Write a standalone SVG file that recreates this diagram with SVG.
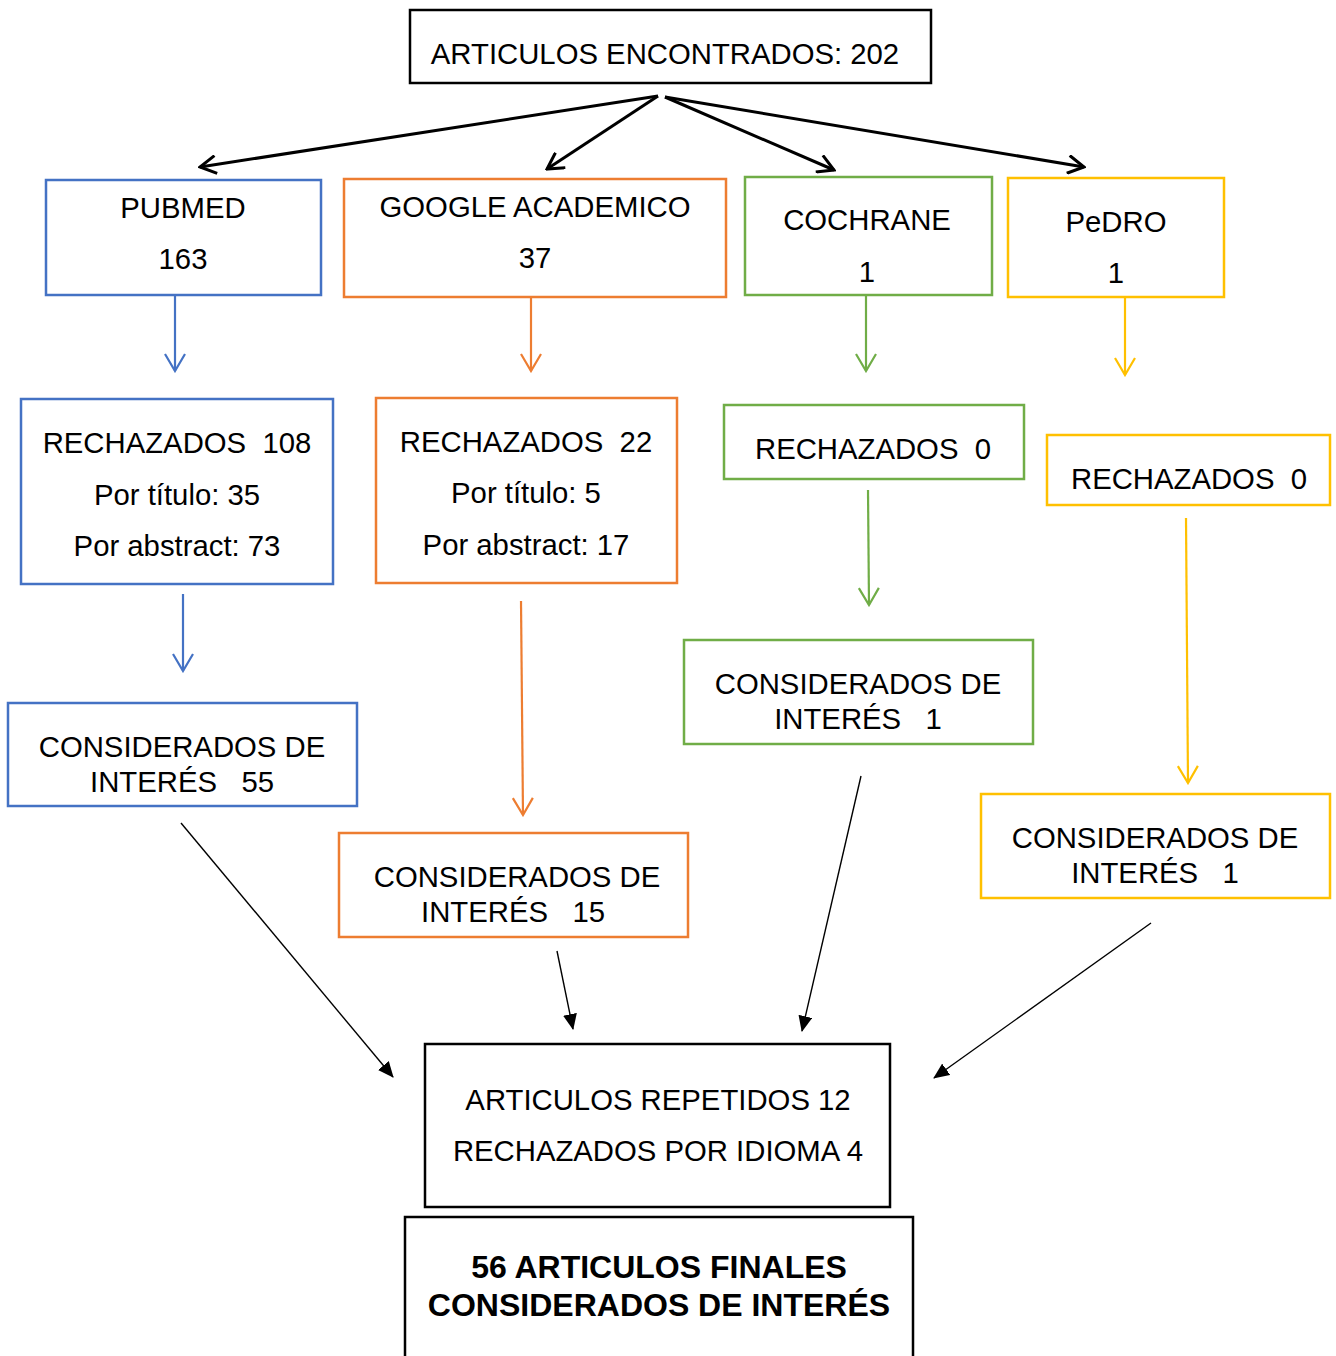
<svg xmlns="http://www.w3.org/2000/svg" width="1336" height="1356" viewBox="0 0 1336 1356">
<style>
text{font-family:"Liberation Sans",Arial,sans-serif;font-size:29.3px;fill:#000;text-anchor:middle}
.b{font-weight:bold;font-size:32px}
rect{fill:#fff;stroke-width:2.5}
.k{stroke:#000}.bl{stroke:#4472C4}.or{stroke:#ED7D31}.gr{stroke:#70AD47}.ye{stroke:#FFC000}
line{fill:none}
</style>
<defs>
<marker id="vk" markerUnits="userSpaceOnUse" viewBox="0 0 20 20" markerWidth="20" markerHeight="20" refX="18" refY="10" orient="auto"><path d="M2,1 L18,10 L2,19" fill="none" stroke="#000" stroke-width="3"/></marker>
<marker id="vbl" markerUnits="userSpaceOnUse" viewBox="0 0 20 24" markerWidth="20" markerHeight="24" refX="18" refY="12" orient="auto"><path d="M1,2 L18,12 L1,22" fill="none" stroke="#4472C4" stroke-width="2.2"/></marker>
<marker id="vor" markerUnits="userSpaceOnUse" viewBox="0 0 20 24" markerWidth="20" markerHeight="24" refX="18" refY="12" orient="auto"><path d="M1,2 L18,12 L1,22" fill="none" stroke="#ED7D31" stroke-width="2.2"/></marker>
<marker id="vgr" markerUnits="userSpaceOnUse" viewBox="0 0 20 24" markerWidth="20" markerHeight="24" refX="18" refY="12" orient="auto"><path d="M1,2 L18,12 L1,22" fill="none" stroke="#70AD47" stroke-width="2.2"/></marker>
<marker id="vye" markerUnits="userSpaceOnUse" viewBox="0 0 20 24" markerWidth="20" markerHeight="24" refX="18" refY="12" orient="auto"><path d="M1,2 L18,12 L1,22" fill="none" stroke="#FFC000" stroke-width="2.2"/></marker>
<marker id="tri" markerUnits="userSpaceOnUse" viewBox="0 0 16 14" markerWidth="16" markerHeight="14" refX="15" refY="7" orient="auto"><path d="M0,0 L16,7 L0,14 z" fill="#000"/></marker>
</defs>

<g id="connectors">
<line x1="658" y1="96" x2="200" y2="167" stroke="#000" stroke-width="3" marker-end="url(#vk)"/>
<line x1="658" y1="96" x2="547" y2="169" stroke="#000" stroke-width="3" marker-end="url(#vk)"/>
<line x1="665" y1="97" x2="834" y2="170" stroke="#000" stroke-width="3" marker-end="url(#vk)"/>
<line x1="665" y1="97" x2="1084" y2="167" stroke="#000" stroke-width="3" marker-end="url(#vk)"/>

<line x1="175" y1="295" x2="175" y2="371" class="bl" stroke-width="2.2" marker-end="url(#vbl)"/>
<line x1="531" y1="297" x2="531" y2="371" class="or" stroke-width="2.2" marker-end="url(#vor)"/>
<line x1="866" y1="296" x2="866" y2="371" class="gr" stroke-width="2.2" marker-end="url(#vgr)"/>
<line x1="1125" y1="297" x2="1125" y2="375" class="ye" stroke-width="2.2" marker-end="url(#vye)"/>

<line x1="183" y1="594" x2="183" y2="671" class="bl" stroke-width="2.2" marker-end="url(#vbl)"/>
<line x1="521" y1="601" x2="523" y2="815" class="or" stroke-width="2.2" marker-end="url(#vor)"/>
<line x1="868" y1="490" x2="869" y2="605" class="gr" stroke-width="2.2" marker-end="url(#vgr)"/>
<line x1="1186" y1="518" x2="1188" y2="783" class="ye" stroke-width="2.2" marker-end="url(#vye)"/>

<line x1="181" y1="823" x2="393" y2="1077" stroke="#000" stroke-width="1.4" marker-end="url(#tri)"/>
<line x1="557" y1="951" x2="573" y2="1029" stroke="#000" stroke-width="1.4" marker-end="url(#tri)"/>
<line x1="861" y1="776" x2="802" y2="1031" stroke="#000" stroke-width="1.4" marker-end="url(#tri)"/>
<line x1="1151" y1="923" x2="934" y2="1078" stroke="#000" stroke-width="1.4" marker-end="url(#tri)"/>
</g>

<g id="n_total"><rect x="410" y="10" width="521" height="73" class="k"/><text x="665" y="64">ARTICULOS ENCONTRADOS: 202</text></g>

<g id="n_pubmed"><rect x="46" y="180" width="275" height="115" class="bl"/><text x="183" y="218">PUBMED</text><text x="183" y="269">163</text></g>
<g id="n_google"><rect x="344" y="179" width="382" height="118" class="or"/><text x="535" y="217">GOOGLE ACADEMICO</text><text x="535" y="268">37</text></g>
<g id="n_cochrane"><rect x="745" y="177" width="247" height="118" class="gr"/><text x="867" y="230">COCHRANE</text><text x="867" y="282">1</text></g>
<g id="n_pedro"><rect x="1008" y="178" width="216" height="119" class="ye"/><text x="1116" y="232">PeDRO</text><text x="1116" y="283">1</text></g>

<g id="n_rech_pubmed"><rect x="21" y="399" width="312" height="185" class="bl"/><text x="177" y="453" xml:space="preserve">RECHAZADOS  108</text><text x="177" y="505">Por título: 35</text><text x="177" y="556">Por abstract: 73</text></g>
<g id="n_rech_google"><rect x="376" y="398" width="301" height="185" class="or"/><text x="526" y="452" xml:space="preserve">RECHAZADOS  22</text><text x="526" y="503">Por título: 5</text><text x="526" y="555">Por abstract: 17</text></g>
<g id="n_rech_cochrane"><rect x="724" y="405" width="300" height="74" class="gr"/><text x="873" y="459" xml:space="preserve">RECHAZADOS  0</text></g>
<g id="n_rech_pedro"><rect x="1047" y="435" width="283" height="70" class="ye"/><text x="1189" y="489" xml:space="preserve">RECHAZADOS  0</text></g>

<g id="n_int_pubmed"><rect x="8" y="703" width="349" height="103" class="bl"/><text x="182" y="757">CONSIDERADOS DE</text><text x="182" y="792" xml:space="preserve">INTERÉS   55</text></g>
<g id="n_int_google"><rect x="339" y="833" width="349" height="104" class="or"/><text x="517" y="887">CONSIDERADOS DE</text><text x="513" y="922" xml:space="preserve">INTERÉS   15</text></g>
<g id="n_int_cochrane"><rect x="684" y="640" width="349" height="104" class="gr"/><text x="858" y="694">CONSIDERADOS DE</text><text x="858" y="729" xml:space="preserve">INTERÉS   1</text></g>
<g id="n_int_pedro"><rect x="981" y="794" width="349" height="104" class="ye"/><text x="1155" y="848">CONSIDERADOS DE</text><text x="1155" y="883" xml:space="preserve">INTERÉS   1</text></g>

<g id="n_repetidos"><rect x="425" y="1044" width="465" height="163" class="k"/><text x="658" y="1110">ARTICULOS REPETIDOS 12</text><text x="658" y="1161">RECHAZADOS POR IDIOMA 4</text></g>
<g id="n_final"><rect x="405" y="1217" width="508" height="160" class="k" stroke-width="3"/><text class="b" x="659" y="1278">56 ARTICULOS FINALES</text><text class="b" x="659" y="1316">CONSIDERADOS DE INTERÉS</text></g>
</svg>
